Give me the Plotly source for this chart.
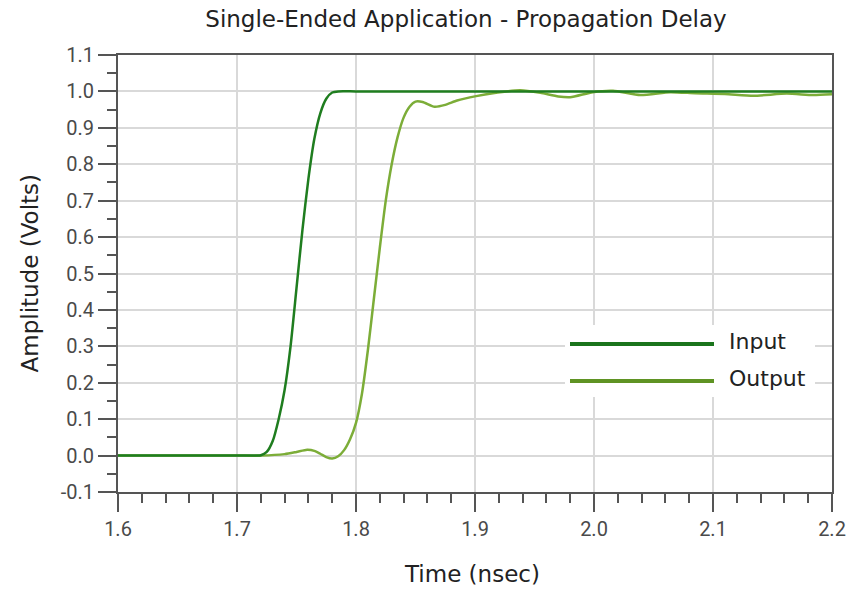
import plotly.graph_objects as go

# Input edge (time in ns, amplitude in V)
input_t = [1.600, 1.650, 1.700, 1.712, 1.720, 1.725, 1.730, 1.735, 1.740, 1.745,
           1.750, 1.755, 1.760, 1.765, 1.770, 1.775, 1.780, 1.785, 1.800, 1.900,
           2.000, 2.100, 2.200]
input_v = [0.000, 0.000, 0.000, 0.000, 0.001, 0.010, 0.040, 0.100, 0.180, 0.300,
           0.460, 0.620, 0.760, 0.870, 0.940, 0.980, 0.997, 1.000, 1.000, 1.000,
           1.000, 1.000, 1.000]

# Output edge (time in ns, amplitude in V)
output_t = [1.600, 1.650, 1.700, 1.720, 1.740, 1.750, 1.759, 1.765, 1.770, 1.775,
            1.780, 1.785, 1.790, 1.795, 1.800, 1.805, 1.810, 1.815, 1.820, 1.825,
            1.830, 1.835, 1.840, 1.845, 1.850, 1.856, 1.866, 1.875, 1.885, 1.901,
            1.915, 1.938, 1.955, 1.970, 1.980, 1.999, 2.016, 2.039, 2.064, 2.085,
            2.110, 2.134, 2.162, 2.184, 2.200]
output_v = [0.000, 0.000, 0.000, 0.000, 0.004, 0.010, 0.016, 0.013, 0.005, -0.004,
            -0.008, -0.002, 0.015, 0.045, 0.090, 0.170, 0.290, 0.430, 0.570, 0.700,
            0.800, 0.875, 0.928, 0.958, 0.972, 0.971, 0.958, 0.963, 0.975, 0.987,
            0.995, 1.003, 0.996, 0.986, 0.984, 0.998, 1.002, 0.990, 0.998, 0.995,
            0.993, 0.988, 0.994, 0.990, 0.992]

x_ticks = [1.6, 1.7, 1.8, 1.9, 2.0, 2.1, 2.2]
x_labels = ["1.6", "1.7", "1.8", "1.9", "2.0", "2.1", "2.2"]
y_ticks = [-0.1, 0.0, 0.1, 0.2, 0.3, 0.4, 0.5, 0.6, 0.7, 0.8, 0.9, 1.0, 1.1]
y_labels = ["-0.1", "0.0", "0.1", "0.2", "0.3", "0.4", "0.5", "0.6", "0.7", "0.8",
            "0.9", "1.0", "1.1"]

series_names = ["Input", "Output"]
trace_colors = ["#1f7d1f", "#7cad38"]
key_colors = ["#1a741c", "#5f9323"]

W, H = 846, 590
L, R, T, B = 118, 14, 55, 98
PW, PH = W - L - R, H - T - B

TEXT_FONT = "DejaVu Sans"


def px(x):
    return (x - L) / PW


def py(y):
    return (H - B - y) / PH


fig = go.Figure()
fig.add_trace(go.Scatter(x=output_t, y=output_v, mode="lines", name=series_names[1],
                         line=dict(color=trace_colors[1], width=2.5, shape="spline",
                                   smoothing=0.6)))
fig.add_trace(go.Scatter(x=input_t, y=input_v, mode="lines", name=series_names[0],
                         line=dict(color=trace_colors[0], width=2.5, shape="spline",
                                   smoothing=0.6)))

axis_common = dict(
    showline=True, mirror=True, linecolor="#555555", linewidth=2,
    showgrid=True, gridcolor="#d9d9d9", gridwidth=1.5,
    ticks="outside", ticklen=18, tickwidth=2, tickcolor="#555555",
    tickfont=dict(family="Roboto", size=20, color="#4a4a4a"),
    zeroline=False, automargin=False,
)

fig.update_xaxes(range=[1.6, 2.2], tickvals=x_ticks, ticktext=x_labels,
                 minor=dict(dtick=0.02, tick0=1.6, ticks="outside", ticklen=9,
                            tickwidth=2, tickcolor="#555555", showgrid=False),
                 **axis_common)
fig.update_yaxes(range=[-0.1, 1.1], tickvals=y_ticks, ticktext=y_labels,
                 minor=dict(dtick=0.05, tick0=0, ticks="outside", ticklen=9,
                            tickwidth=2, tickcolor="#555555", showgrid=False),
                 **axis_common)

# Key box with sample lines
shapes = [
    dict(type="rect", xref="paper", yref="paper", layer="above",
         x0=px(565), x1=px(815), y0=py(397), y1=py(325),
         fillcolor="white", line=dict(width=0)),
]
annotations = []
for i, (name, col) in enumerate(zip(series_names, key_colors)):
    ypix = 344 + 37 * i
    shapes.append(dict(type="line", xref="paper", yref="paper", layer="above",
                       x0=px(570), x1=px(714), y0=py(ypix), y1=py(ypix),
                       line=dict(color=col, width=4)))
    annotations.append(dict(text=name, xref="paper", yref="paper",
                            x=px(727), y=py(ypix - 3), xanchor="left", yanchor="middle",
                            showarrow=False,
                            font=dict(family=TEXT_FONT, size=22, color="#222222")))

annotations.append(dict(text="Amplitude (Volts)", xref="paper", yref="paper",
                        x=px(29), y=0.5, textangle=-90, showarrow=False,
                        xanchor="center", yanchor="middle",
                        font=dict(family=TEXT_FONT, size=23, color="#222222")))
annotations.append(dict(text="Time (nsec)", xref="paper", yref="paper",
                        x=px(472), y=py(574), showarrow=False,
                        xanchor="center", yanchor="middle",
                        font=dict(family=TEXT_FONT, size=23, color="#222222")))

fig.update_layout(
    width=W, height=H,
    margin=dict(l=L, r=R, t=T, b=B, autoexpand=False),
    paper_bgcolor="white", plot_bgcolor="white",
    showlegend=False,
    title=dict(text="Single-Ended Application - Propagation Delay",
               x=466 / W, xref="container", xanchor="center",
               y=1 - 19 / H, yref="container", yanchor="middle",
               font=dict(family=TEXT_FONT, size=23, color="#222222")),
    shapes=shapes,
    annotations=annotations,
)

fig.write_html("out.html")
